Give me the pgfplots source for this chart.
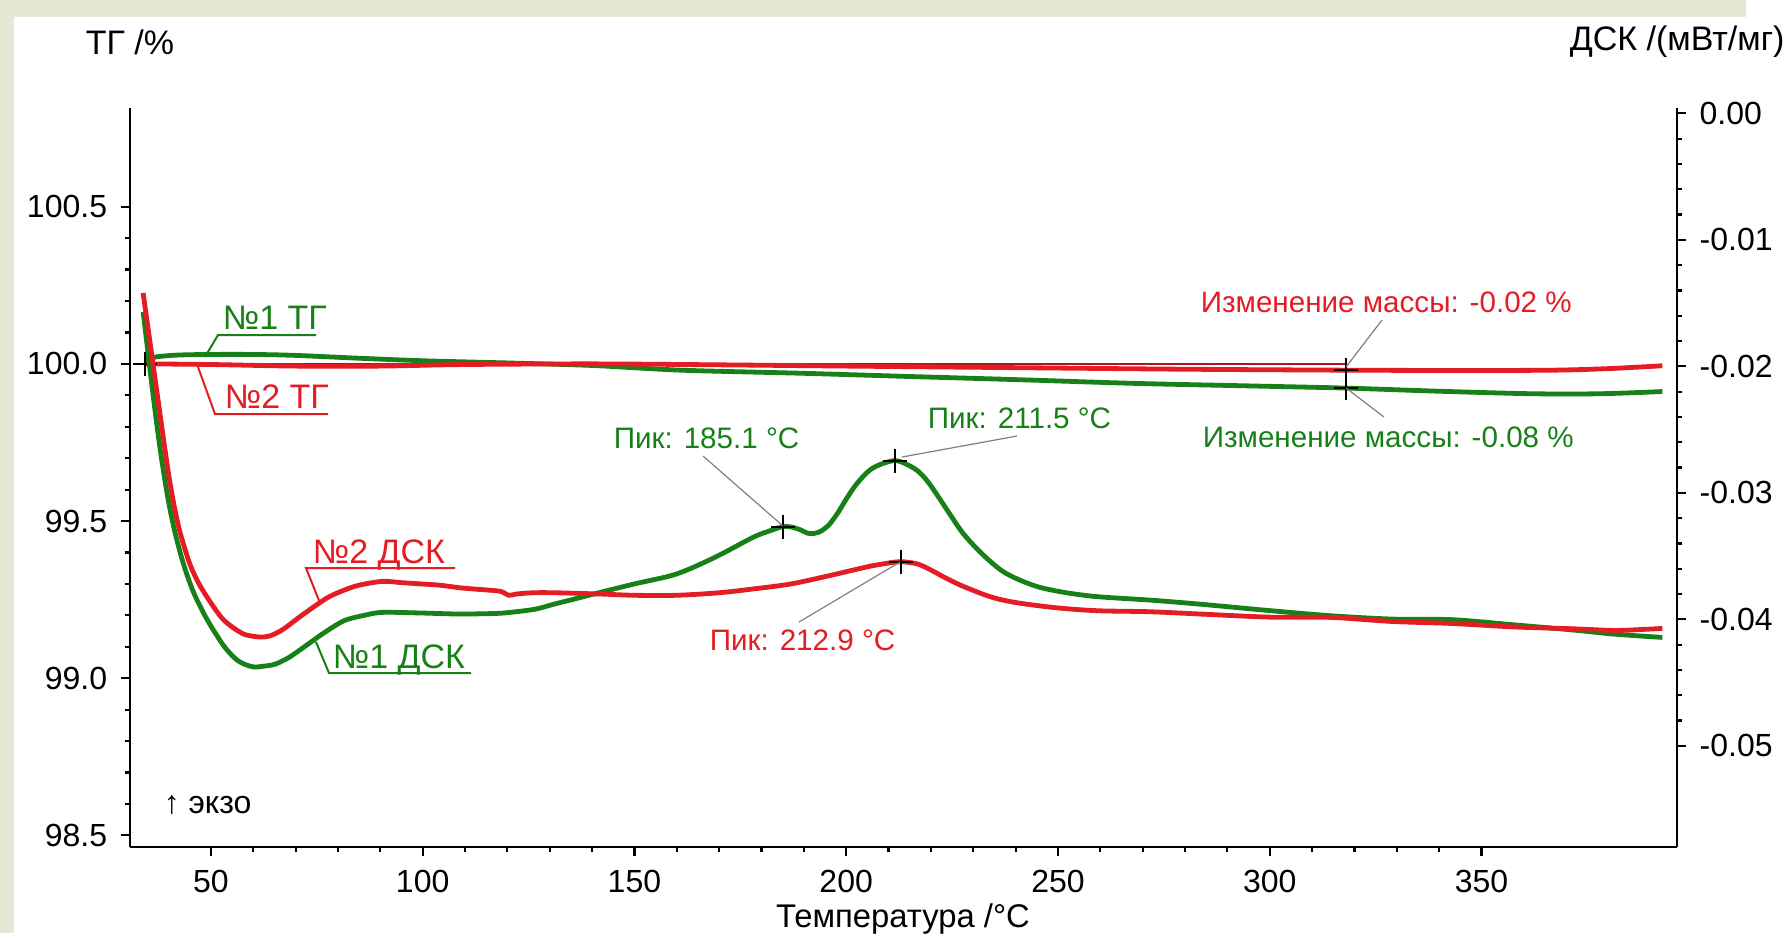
\documentclass[border=0pt]{standalone}
\usepackage{fontspec}
\setmainfont{Liberation Sans}
\usepackage{pgfplots}
\pgfplotsset{compat=1.18}
\definecolor{bgg}{RGB}{227,233,211}
\definecolor{cg}{RGB}{24,128,24}
\definecolor{cr}{RGB}{228,28,36}
\begin{document}
\begin{tikzpicture}[x=0.25pt,y=-0.25pt]
\useasboundingbox (0,0) rectangle (1783,933);
\fill[white] (0,0) rectangle (1783,933);
\fill[bgg] (0,0) rectangle (1746,17);
\fill[bgg] (0,0) rectangle (14,933);
\pgfplotsset{every axis/.append style={
  at={(32.5pt,-211.75pt)}, anchor=south west,
  scale only axis, width=386.675pt, height=184.75pt,
  xmin=30.9, xmax=396.1,
  tick align=outside,
  major tick length=2.2pt, minor tick length=1.25pt,
  every tick/.style={black, line width=0.55pt},
  axis line style={black, line width=0.6pt},
  /pgf/number format/assume math mode=true,
  tick label style={font=\fontsize{8}{9}\selectfont},
}}
% TG axis (left)
\begin{axis}[
  ymin=98.463, ymax=100.814,
  axis x line*=bottom, axis y line*=left,
  xtick={50,100,150,200,250,300,350}, minor x tick num=4,
  ytick={98.5,99,99.5,100,100.5}, minor y tick num=4,
  yticklabel style={/pgf/number format/fixed, /pgf/number format/fixed zerofill, /pgf/number format/precision=1},
]
\addplot[cr!75!black, line width=0.35pt] coordinates {(34.4,100.0) (318,100.0)};
\addplot[cg, line width=1.2pt, smooth, tension=0.5] coordinates {
(34.5,100.012) (37,100.022) (42,100.028) (50,100.03) (60,100.03) (70,100.027)
(85,100.018) (100,100.01) (120,100.003) (140,99.995) (161,99.98) (190,99.97)
(214.6,99.96) (240,99.95) (268,99.938) (295,99.93) (318,99.923) (340,99.913)
(362,99.905) (378,99.905) (392.7,99.912)};
\addplot[cr, line width=1.2pt, smooth, tension=0.5] coordinates {
(34.4,100.0) (50,99.998) (70,99.993) (90,99.993) (110,99.998) (140,100.0)
(170,99.997) (200,99.993) (240,99.988) (280,99.983) (318,99.98) (345,99.979)
(367,99.98) (380,99.985) (392.7,99.994)};
\addplot[only marks, mark=+, mark size=3pt, black, mark options={line width=0.5pt}]
  coordinates {(34.4,100.0) (318,99.98) (318,99.923)};
\end{axis}
% DSC axis (right)
\begin{axis}[
  ymin=-0.058, ymax=0.00042,
  axis x line=none, axis y line*=right,
  scaled y ticks=false,
  ytick={-0.05,-0.04,-0.03,-0.02,-0.01,0}, minor y tick num=4,
  yticklabel style={/pgf/number format/fixed, /pgf/number format/fixed zerofill, /pgf/number format/precision=2},
]
\addplot[cg, line width=1.2pt, smooth, tension=0.5] coordinates {
(34.0,-0.0157) (35,-0.0185) (36,-0.0213) (37,-0.0240) (38,-0.0265) (39,-0.0287)
(40,-0.0307) (41.5,-0.0331) (43.5,-0.0356) (45.7,-0.0377) (48.1,-0.0394) (50.5,-0.0408)
(53.5,-0.0423) (56.5,-0.0433) (59.8,-0.04375) (62.5,-0.0437) (65.2,-0.04354)
(68.5,-0.0430) (72.4,-0.04209) (77,-0.0410) (81.5,-0.0401) (86,-0.0397)
(90.5,-0.03945) (99.6,-0.0395) (108.6,-0.03958) (117.7,-0.03953) (122,-0.0394)
(126.7,-0.03919) (131,-0.0388) (135.8,-0.0384) (141.9,-0.03787) (150,-0.0372)
(159.9,-0.03642) (169,-0.0351) (178,-0.03352) (182,-0.0330) (185.1,-0.03267)
(187,-0.0327) (189,-0.0329) (191,-0.0332) (192.6,-0.0332) (194.2,-0.0330)
(196,-0.0325) (198,-0.0316) (200,-0.0305) (202,-0.0295) (204,-0.0287)
(206,-0.0281) (208.5,-0.0277) (211.5,-0.02745) (214,-0.0277) (216.8,-0.02824) (219,-0.0290)
(221.3,-0.03008) (224.5,-0.0317) (227.7,-0.03325) (232,-0.0348) (236.7,-0.03615)
(241,-0.0369) (245.8,-0.03748) (252,-0.0379) (259.3,-0.03821) (271.7,-0.03848)
(283.5,-0.0388) (300.3,-0.03932) (314.6,-0.03972) (328.9,-0.03998)
(343.2,-0.04003) (357.5,-0.04043) (371.8,-0.04085) (381.3,-0.04117) (392.7,-0.04143)};
\addplot[cr, line width=1.2pt, smooth, tension=0.5] coordinates {
(34,-0.0142) (35,-0.0166) (36,-0.0190) (37,-0.0214) (38,-0.0238) (39,-0.0262)
(40,-0.0285) (41.3,-0.0310) (42.7,-0.0331) (45,-0.0356) (47.2,-0.0372) (50,-0.0387)
(52.6,-0.0399) (55,-0.0406) (58.0,-0.0412) (61.6,-0.0414) (64,-0.0413) (67.0,-0.0408)
(71,-0.0398) (75.2,-0.0388) (78,-0.0382) (81.4,-0.0377) (85,-0.0373)
(90.5,-0.0370) (95,-0.0371) (99.6,-0.0372) (104,-0.0373) (108.6,-0.0375)
(112,-0.0376) (115.9,-0.0377) (118.5,-0.0378) (120.4,-0.0381) (122.1,-0.0380)
(126,-0.0379) (131.2,-0.0379) (141.9,-0.0380) (150,-0.0381) (159.9,-0.0381)
(170,-0.0379) (178,-0.0376) (187,-0.0372) (196,-0.03655) (205.1,-0.03584)
(210,-0.03555) (212.9,-0.03544) (216.8,-0.03562) (220,-0.0361) (223.2,-0.03668)
(227,-0.0373) (232.2,-0.0380) (236,-0.0384) (241.3,-0.03874) (250,-0.0391)
(259.3,-0.03932) (271.7,-0.0394) (283.5,-0.03958) (300.3,-0.03983)
(314.6,-0.03985) (328.9,-0.04017) (343.2,-0.04033) (357.5,-0.0406)
(371.8,-0.04075) (381.3,-0.04088) (388,-0.0408) (392.7,-0.04072)};
\addplot[only marks, mark=+, mark size=3pt, black, mark options={line width=0.5pt}]
  coordinates {(185.1,-0.03267) (211.5,-0.02745) (212.9,-0.03544)};
\end{axis}
% axis titles
\node[anchor=base west, inner sep=0, font=\fontsize{8.5}{10}\selectfont] at (85,54) {ТГ /\%};
\node[anchor=base west, inner sep=0, font=\fontsize{8.5}{10}\selectfont] at (1569,50) {ДСК /(мВт/мг)};
\node[anchor=base, inner sep=0, font=\fontsize{8.2}{10}\selectfont] at (903,927) {Температура /°C};
\node[anchor=base west, inner sep=0, font=\fontsize{8}{10}\selectfont] at (163,813) {↑ экзо};
% curve labels
\node[anchor=base west, inner sep=0, text=cg, font=\fontsize{8.5}{10}\selectfont] at (222,329) {№1 ТГ};
\draw[cg, line width=0.5pt] (205,357) -- (218,335) -- (316,335);
\node[anchor=base west, inner sep=0, text=cr, font=\fontsize{8.5}{10}\selectfont] at (224,408) {№2 ТГ};
\draw[cr, line width=0.5pt] (198,367) -- (215,414) -- (328,414);
\node[anchor=base west, inner sep=0, text=cr, font=\fontsize{8.5}{10}\selectfont] at (312,563) {№2 ДСК};
\draw[cr, line width=0.5pt] (319.5,601.7) -- (306,568) -- (455,568);
\node[anchor=base west, inner sep=0, text=cg, font=\fontsize{8.5}{10}\selectfont] at (332,668) {№1 ДСК};
\draw[cg, line width=0.5pt] (316,642) -- (329,673) -- (471,673);
% peak and mass-change annotations
\node[anchor=base west, inner sep=0, text=cg, font=\fontsize{7.4}{9}\selectfont] at (613,448) {Пик: 185.1 °C};
\draw[gray, line width=0.3pt] (703,456) -- (783,526);
\node[anchor=base west, inner sep=0, text=cg, font=\fontsize{7.4}{9}\selectfont] at (927,428) {Пик: 211.5 °C};
\draw[gray, line width=0.3pt] (1017,436) -- (902,457);
\node[anchor=base west, inner sep=0, text=cr, font=\fontsize{7.4}{9}\selectfont] at (709,650) {Пик: 212.9 °C};
\draw[gray, line width=0.3pt] (799,622) -- (900,562);
\node[anchor=base west, inner sep=0, text=cr, font=\fontsize{7.4}{9}\selectfont] at (1200,312) {Изменение массы: -0.02 \%};
\draw[gray, line width=0.3pt] (1382,320) -- (1346,367);
\node[anchor=base west, inner sep=0, text=cg, font=\fontsize{7.4}{9}\selectfont] at (1202,447) {Изменение массы: -0.08 \%};
\draw[gray, line width=0.3pt] (1346,388) -- (1384,417);
\end{tikzpicture}
\end{document}
